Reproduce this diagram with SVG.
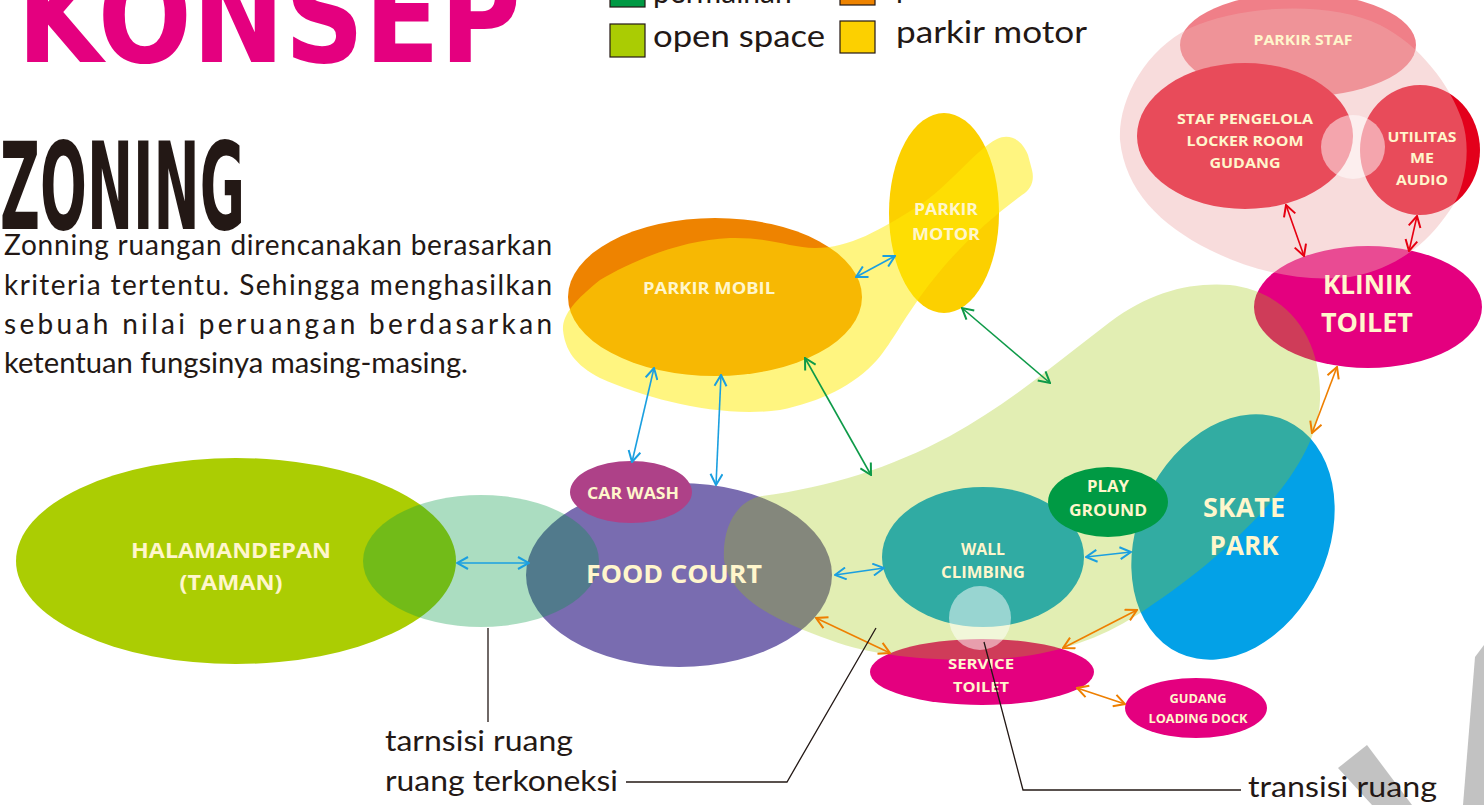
<svg xmlns="http://www.w3.org/2000/svg" width="1484" height="805" viewBox="0 0 1484 805">
<style>
.lbl{font-family:"Open Sans","Noto Sans",sans-serif;font-weight:700;fill:#FFF6CC;text-anchor:middle}
.ann{font-family:Lato,"Noto Sans",sans-serif;fill:#231815}
.lead{fill:none;stroke:#231815;stroke-width:1.3}
.cb{stroke:#1A9FE0;stroke-width:1.6;marker-start:url(#mb);marker-end:url(#mb)}
.cg{stroke:#0E9A48;stroke-width:1.6;marker-start:url(#mg);marker-end:url(#mg)}
.co{stroke:#EE7F00;stroke-width:1.6;marker-start:url(#mo);marker-end:url(#mo)}
.cr{stroke:#E60012;stroke-width:1.6;marker-start:url(#mr);marker-end:url(#mr)}
.box{stroke:#231815;stroke-width:1.2}
</style>
<defs>
<marker id="mb" viewBox="0 0 13 14" refX="12" refY="7" markerWidth="13" markerHeight="14" markerUnits="userSpaceOnUse" orient="auto-start-reverse"><path d="M1,1 L12,7 L1,13" fill="none" stroke="#1A9FE0" stroke-width="2"/></marker>
<marker id="mg" viewBox="0 0 13 14" refX="12" refY="7" markerWidth="13" markerHeight="14" markerUnits="userSpaceOnUse" orient="auto-start-reverse"><path d="M1,1 L12,7 L1,13" fill="none" stroke="#0E9A48" stroke-width="2"/></marker>
<marker id="mo" viewBox="0 0 13 14" refX="12" refY="7" markerWidth="13" markerHeight="14" markerUnits="userSpaceOnUse" orient="auto-start-reverse"><path d="M1,1 L12,7 L1,13" fill="none" stroke="#EE7F00" stroke-width="2"/></marker>
<marker id="mr" viewBox="0 0 13 14" refX="12" refY="7" markerWidth="13" markerHeight="14" markerUnits="userSpaceOnUse" orient="auto-start-reverse"><path d="M1,1 L12,7 L1,13" fill="none" stroke="#E60012" stroke-width="2"/></marker>
</defs>
<rect width="1484" height="805" fill="#FFFFFF"/>

<!-- background gray shapes -->
<g id="deco">
<polygon points="1338,768 1367,745 1412,805 1372,805" fill="#C2C2C2"/>
<polygon points="1475,657 1484,645 1484,805 1463,805" fill="#C2C2C2"/>
</g>

<!-- titles -->
<g id="title">
<text x="17" y="62" font-family="'DejaVu Sans',sans-serif" font-weight="700" font-size="130" fill="#E4007F" textLength="504" lengthAdjust="spacingAndGlyphs">KONSEP</text>
<text x="0" y="229" font-family="'DejaVu Sans',sans-serif" font-weight="700" font-size="122" fill="#231815" textLength="245" lengthAdjust="spacingAndGlyphs">ZONING</text>
</g>

<g id="body-text" class="ann" font-size="28">
<text x="4" y="255" textLength="548" lengthAdjust="spacing">Zonning ruangan direncanakan berasarkan</text>
<text x="4" y="295" textLength="548" lengthAdjust="spacing">kriteria tertentu. Sehingga menghasilkan</text>
<text x="4" y="334" textLength="548" lengthAdjust="spacing">sebuah nilai peruangan berdasarkan</text>
<text x="4" y="373" textLength="464" lengthAdjust="spacingAndGlyphs">ketentuan fungsinya masing-masing.</text>
</g>

<!-- legend -->
<g id="legend">
<rect class="box" x="610" y="-26" width="35" height="33" fill="#009944"/>
<text class="ann" x="653" y="3" font-size="30">permainan</text>
<rect class="box" x="840" y="-28" width="35" height="33" fill="#EE8300"/>
<text class="ann" x="896" y="-2" font-size="30">parkir mobil</text>
<rect class="box" x="610" y="24" width="35" height="33" fill="#AACC03"/>
<text class="ann" x="653" y="47" font-size="30" textLength="172" lengthAdjust="spacingAndGlyphs">open space</text>
<rect class="box" x="840" y="21" width="35" height="32" fill="#FCD000"/>
<text class="ann" x="896" y="43" font-size="30" textLength="191" lengthAdjust="spacingAndGlyphs">parkir motor</text>
</g>

<!-- left group -->
<g id="halamandepan">
<ellipse cx="236" cy="561" rx="220" ry="103" fill="#ABCD03"/>
<text class="lbl" x="231" y="558" font-size="22" textLength="200" lengthAdjust="spacingAndGlyphs">HALAMANDEPAN</text>
<text class="lbl" x="231" y="590" font-size="22" textLength="103" lengthAdjust="spacingAndGlyphs">(TAMAN)</text>
</g>
<g id="food-court">
<ellipse cx="679" cy="575" rx="153" ry="92" fill="#796CB0"/>
</g>
<g id="transisi">
<ellipse cx="481" cy="561" rx="118" ry="66" fill="#009944" fill-opacity="0.33"/>
</g>
<g id="car-wash">
<ellipse cx="631" cy="492" rx="61" ry="31" fill="#AE4188"/>
<text class="lbl" x="633" y="499" font-size="16" textLength="92" lengthAdjust="spacingAndGlyphs">CAR WASH</text>
</g>

<!-- parking -->
<g id="parkir-mobil">
<ellipse cx="715" cy="297" rx="147" ry="79" fill="#EE8300"/>
</g>
<g id="parkir-motor">
<ellipse cx="944" cy="213" rx="55" ry="100" fill="#FCD000"/>
</g>
<g id="zona-parkir">
<path d="M563,330 C562,315 575,300 600,280 C630,262 680,240 730,238 C770,237 790,248 815,248 C850,248 880,230 920,205 C950,185 975,150 997,139 C1010,133 1022,140 1028,155 L1032,170 C1035,182 1030,190 1022,195 C985,222 950,255 920,297 C900,325 890,345 877,360 C855,385 820,402 780,410 C720,418 650,400 600,378 C575,365 565,350 563,330 Z" fill="#FFEB06" fill-opacity="0.51"/>
<text class="lbl" x="709" y="294" font-size="16" textLength="132" lengthAdjust="spacingAndGlyphs">PARKIR MOBIL</text>
<text class="lbl" x="946" y="215" font-size="16" textLength="64" lengthAdjust="spacingAndGlyphs">PARKIR</text>
<text class="lbl" x="946" y="240" font-size="16" textLength="68" lengthAdjust="spacingAndGlyphs">MOTOR</text>
</g>

<!-- staff zone -->
<g id="parkir-staf">
<ellipse cx="1298" cy="45" rx="118" ry="52" fill="#F07F88"/>
</g>
<g id="staf-pengelola">
<ellipse cx="1245" cy="136" rx="108" ry="73" fill="#E3001B"/>
</g>
<g id="utilitas">
<ellipse cx="1420" cy="150" rx="60" ry="65" fill="#E3001B"/>
</g>
<g id="klinik">
<ellipse cx="1368" cy="307" rx="114" ry="61" fill="#E4007F"/>
</g>
<g id="skate-park">
<ellipse cx="1233" cy="537" rx="95" ry="128" transform="rotate(25 1233 537)" fill="#03A1E7"/>
</g>
<g id="wall-climbing">
<ellipse cx="983" cy="557" rx="101" ry="70" fill="#00A0E9"/>
</g>
<g id="service-toilet">
<ellipse cx="982" cy="672" rx="112" ry="33" fill="#E4007F"/>
</g>
<g id="gudang">
<ellipse cx="1196" cy="708" rx="71" ry="30" fill="#E4007F"/>
<text class="lbl" x="1198" y="703" font-size="12.5" textLength="57" lengthAdjust="spacingAndGlyphs">GUDANG</text>
<text class="lbl" x="1198" y="723" font-size="12.5" textLength="99" lengthAdjust="spacingAndGlyphs">LOADING DOCK</text>
</g>

<!-- open space -->
<g id="open-space">
<path d="M724,560 C722,525 738,500 762,496 C830,487 890,468 950,436 C1010,403 1060,360 1110,322 C1150,292 1190,282 1230,285 C1290,292 1322,340 1320,400 C1318,470 1230,555 1137,615 C1090,645 1040,658 980,660 C920,660 870,655 830,640 C780,622 730,600 724,560 Z" fill="#A0C803" fill-opacity="0.3"/>
</g>
<g id="play-ground">
<ellipse cx="1108" cy="502" rx="60" ry="35" fill="#009A44"/>
<text class="lbl" x="1108" y="492" font-size="16" textLength="42" lengthAdjust="spacingAndGlyphs">PLAY</text>
<text class="lbl" x="1108" y="516" font-size="16" textLength="78" lengthAdjust="spacingAndGlyphs">GROUND</text>
</g>

<g id="staff-zone">
<path d="M1120,140 C1118,100 1145,50 1190,28 C1240,5 1330,0 1380,25 C1420,45 1450,85 1462,120 C1472,150 1465,190 1450,210 C1430,240 1400,268 1350,277 C1300,283 1250,270 1210,250 C1160,225 1125,190 1120,140 Z" fill="#EFADAF" fill-opacity="0.43"/>
<circle cx="1353" cy="147" r="32" fill="#FFFFFF" fill-opacity="0.5"/>
</g>
<ellipse cx="980" cy="618" rx="31" ry="32" fill="#FFFFFF" fill-opacity="0.5"/>

<!-- labels over blended shapes -->
<g id="labels">
<text class="lbl" x="674" y="583" font-size="25" textLength="176" lengthAdjust="spacingAndGlyphs">FOOD COURT</text>
<text class="lbl" x="983" y="555" font-size="16" textLength="44" lengthAdjust="spacingAndGlyphs">WALL</text>
<text class="lbl" x="983" y="578" font-size="16" textLength="84" lengthAdjust="spacingAndGlyphs">CLIMBING</text>
<text class="lbl" x="1244" y="517" font-size="26" textLength="82" lengthAdjust="spacingAndGlyphs">SKATE</text>
<text class="lbl" x="1244" y="555" font-size="26" textLength="69" lengthAdjust="spacingAndGlyphs">PARK</text>
<text class="lbl" x="981" y="669" font-size="15" textLength="66" lengthAdjust="spacingAndGlyphs">SERVICE</text>
<text class="lbl" x="981" y="692" font-size="15" textLength="56" lengthAdjust="spacingAndGlyphs">TOILET</text>
<text class="lbl" x="1367" y="294" font-size="27" textLength="88" lengthAdjust="spacingAndGlyphs">KLINIK</text>
<text class="lbl" x="1367" y="332" font-size="27" textLength="92" lengthAdjust="spacingAndGlyphs">TOILET</text>
<text class="lbl" x="1303" y="45" font-size="15" textLength="99" lengthAdjust="spacingAndGlyphs">PARKIR STAF</text>
<text class="lbl" x="1245" y="124" font-size="15" textLength="136" lengthAdjust="spacingAndGlyphs">STAF PENGELOLA</text>
<text class="lbl" x="1245" y="146" font-size="15" textLength="117" lengthAdjust="spacingAndGlyphs">LOCKER ROOM</text>
<text class="lbl" x="1245" y="168" font-size="15" textLength="71" lengthAdjust="spacingAndGlyphs">GUDANG</text>
<text class="lbl" x="1422" y="142" font-size="15" textLength="69" lengthAdjust="spacingAndGlyphs">UTILITAS</text>
<text class="lbl" x="1422" y="163" font-size="15" textLength="24" lengthAdjust="spacingAndGlyphs">ME</text>
<text class="lbl" x="1422" y="185" font-size="15" textLength="52" lengthAdjust="spacingAndGlyphs">AUDIO</text>
</g>

<!-- connectors -->
<g id="connectors">
<line class="cb" x1="654" y1="368" x2="632" y2="462"/>
<line class="cb" x1="721" y1="375" x2="716" y2="485"/>
<line class="cb" x1="856" y1="277" x2="895" y2="256"/>
<line class="cb" x1="457" y1="563" x2="529" y2="563"/>
<line class="cb" x1="835" y1="575" x2="884" y2="568"/>
<line class="cb" x1="1086" y1="557" x2="1131" y2="552"/>
<line class="cg" x1="805" y1="358" x2="871" y2="475"/>
<line class="cg" x1="962" y1="308" x2="1050" y2="383"/>
<line class="co" x1="1337" y1="367" x2="1312" y2="433"/>
<line class="co" x1="816" y1="618" x2="890" y2="653"/>
<line class="co" x1="1063" y1="648" x2="1137" y2="610"/>
<line class="co" x1="1077" y1="688" x2="1125" y2="704"/>
<line class="cr" x1="1286" y1="205" x2="1304" y2="256"/>
<line class="cr" x1="1417" y1="216" x2="1409" y2="251"/>
</g>

<!-- annotations -->
<g id="annotations">
<polyline class="lead" points="488,628 488,722"/>
<polyline class="lead" points="626,782 787,782 876,628"/>
<polyline class="lead" points="984,642 1023,790 1241,790"/>
<text class="ann" x="385" y="751" font-size="29" textLength="188" lengthAdjust="spacingAndGlyphs">tarnsisi ruang</text>
<text class="ann" x="385" y="791" font-size="29" textLength="233" lengthAdjust="spacingAndGlyphs">ruang terkoneksi</text>
<text class="ann" x="1248" y="797" font-size="29" textLength="189" lengthAdjust="spacingAndGlyphs">transisi ruang</text>
</g>
</svg>
